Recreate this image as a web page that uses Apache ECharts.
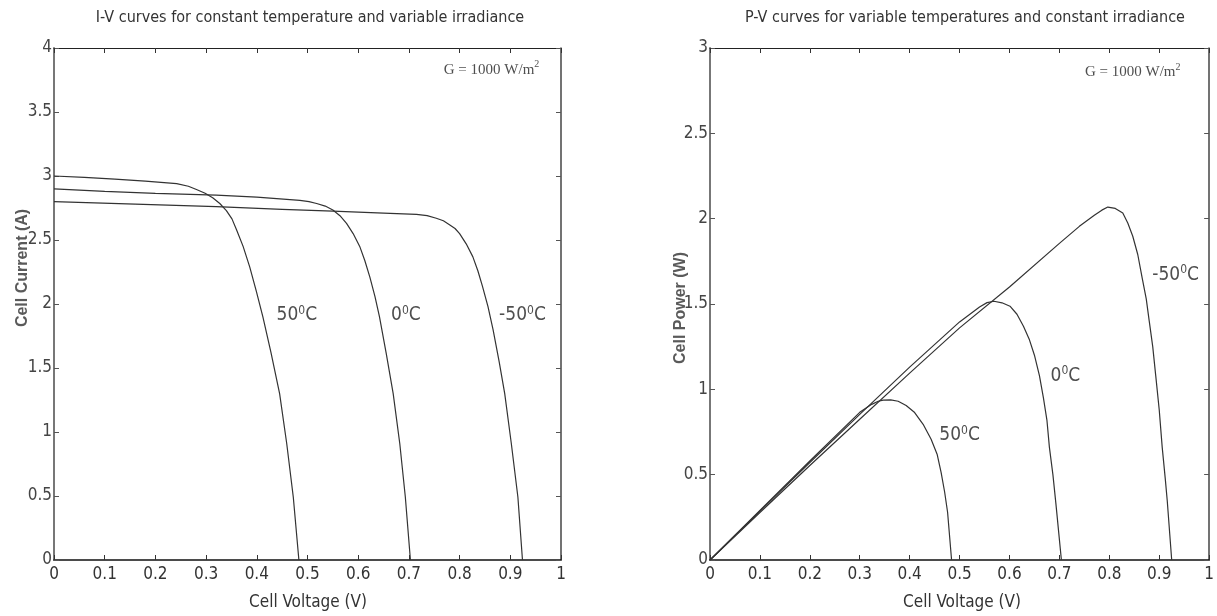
<!DOCTYPE html>
<html>
<head>
    <meta charset="utf-8">
    <title>I-V and P-V curves</title>
    <style>
        html, body { margin: 0; padding: 0; background: #fff; }
        #main { width: 1217px; height: 616px; }
    </style>
</head>
<body>
<div id="main"></div>
<script src="https://cdn.jsdelivr.net/npm/echarts@6/dist/echarts.min.js"></script>
<script>
    // I-V curves, [V, I]
    var iv50 = [[0, 3.0], [0.06, 2.99], [0.12, 2.975], [0.18, 2.96], [0.242, 2.94], [0.265, 2.92], [0.281, 2.895],
        [0.298, 2.865], [0.313, 2.83], [0.327, 2.785], [0.34, 2.73], [0.351, 2.665], [0.36, 2.58], [0.373, 2.45],
        [0.386, 2.29], [0.399, 2.10], [0.412, 1.90], [0.428, 1.62], [0.445, 1.30], [0.459, 0.91], [0.472, 0.49], [0.483, 0]];
    var iv0 = [[0, 2.90], [0.1, 2.88], [0.2, 2.865], [0.32, 2.85], [0.4, 2.835], [0.485, 2.81], [0.503, 2.80],
        [0.518, 2.785], [0.535, 2.765], [0.55, 2.735], [0.564, 2.69], [0.577, 2.63], [0.59, 2.55], [0.603, 2.45],
        [0.613, 2.34], [0.623, 2.21], [0.633, 2.06], [0.642, 1.90], [0.655, 1.62], [0.669, 1.30], [0.682, 0.91],
        [0.693, 0.49], [0.703, 0]];
    var ivm50 = [[0, 2.80], [0.16, 2.78], [0.32, 2.76], [0.45, 2.74], [0.55, 2.725], [0.65, 2.71], [0.715, 2.70],
        [0.736, 2.69], [0.754, 2.67], [0.768, 2.65], [0.78, 2.62], [0.791, 2.59], [0.80, 2.55], [0.813, 2.47],
        [0.826, 2.37], [0.836, 2.26], [0.845, 2.14], [0.856, 1.98], [0.866, 1.80], [0.878, 1.55], [0.889, 1.30],
        [0.902, 0.91], [0.915, 0.49], [0.924, 0]];

    // P-V curves, [V, P]
    var pv50 = [[0, 0], [0.1, 0.29], [0.2, 0.58], [0.3, 0.865], [0.324, 0.912], [0.337, 0.93], [0.347, 0.937],
        [0.362, 0.938], [0.377, 0.93], [0.393, 0.905], [0.41, 0.864], [0.427, 0.795], [0.443, 0.707], [0.455, 0.62],
        [0.463, 0.513], [0.47, 0.40], [0.476, 0.28], [0.484, 0]];
    var pv0 = [[0, 0], [0.1, 0.286], [0.2, 0.571], [0.3, 0.853], [0.4, 1.13], [0.5, 1.395], [0.54, 1.483],
        [0.555, 1.508], [0.569, 1.516], [0.585, 1.507], [0.601, 1.487], [0.615, 1.44], [0.628, 1.37], [0.64, 1.29],
        [0.65, 1.2], [0.66, 1.08], [0.668, 0.95], [0.675, 0.82], [0.68, 0.66], [0.687, 0.5], [0.693, 0.33], [0.704, 0]];
    var pvm50 = [[0, 0], [0.1, 0.278], [0.2, 0.554], [0.3, 0.825], [0.4, 1.095], [0.5, 1.36], [0.6, 1.60],
        [0.7, 1.855], [0.74, 1.955], [0.77, 2.02], [0.785, 2.05], [0.797, 2.068], [0.812, 2.06], [0.827, 2.033],
        [0.837, 1.975], [0.847, 1.897], [0.857, 1.79], [0.866, 1.65], [0.874, 1.53], [0.88, 1.40], [0.887, 1.25],
        [0.893, 1.08], [0.9, 0.88], [0.906, 0.66], [0.912, 0.48], [0.916, 0.35], [0.925, 0]];

    // curve labels [V, value, text]
    var ivNotes = [[0.479, 1.91, '{n|50}{s|0}{n|C}'], [0.694, 1.91, '{n|0}{s|0}{n|C}'],
        [0.924, 1.91, '{n|-50}{s|0}{n|C}'], [0.863, 3.83, '{g|G = 1000 W/m}{gs|2}']];
    var pvNotes = [[0.5, 0.73, '{n|50}{s|0}{n|C}'], [0.712, 1.08, '{n|0}{s|0}{n|C}'],
        [0.933, 1.67, '{n|-50}{s|0}{n|C}'], [0.847, 2.86, '{g|G = 1000 W/m}{gs|2}']];

    var narrow = "'Liberation Sans Narrow','DejaVu Sans Condensed','Roboto Condensed',sans-serif";
    var lineColor = '#333';

    var rich = {
        n: { fontFamily: narrow, fontSize: 19, color: '#222', lineHeight: 22 },
        s: { fontFamily: narrow, fontSize: 12, color: '#222', lineHeight: 12, verticalAlign: 'top' },
        g: { fontFamily: "'Liberation Serif', serif", fontSize: 15, color: '#222', lineHeight: 20 },
        gs: { fontFamily: "'Liberation Serif', serif", fontSize: 10, color: '#222', lineHeight: 10, verticalAlign: 'top' }
    };

    function xAxes(grid) {
        return [{
            type: 'value', gridIndex: grid, min: 0, max: 1, interval: 0.1,
            axisLine: { onZero: false, lineStyle: { color: '#111', width: 1.5 } },
            axisTick: { inside: true, length: 5, lineStyle: { color: '#333' } },
            axisLabel: { fontFamily: narrow, fontSize: 17, color: '#333', margin: 6 },
            splitLine: { show: false }
        }, {
            type: 'value', gridIndex: grid, position: 'top', min: 0, max: 1, interval: 0.1,
            axisLine: { onZero: false, lineStyle: { color: '#222', width: 1 } },
            axisTick: { inside: true, length: 5, lineStyle: { color: '#333' } },
            axisLabel: { show: false },
            splitLine: { show: false }
        }];
    }

    function yAxes(grid, max) {
        return [{
            type: 'value', gridIndex: grid, min: 0, max: max, interval: 0.5,
            axisLine: { onZero: false, lineStyle: { color: '#777', width: 2 } },
            axisTick: { inside: true, length: 5, lineStyle: { color: '#555' } },
            axisLabel: { fontFamily: narrow, fontSize: 17, color: '#444', margin: 2 },
            splitLine: { show: false }
        }, {
            type: 'value', gridIndex: grid, position: 'right', min: 0, max: max, interval: 0.5,
            axisLine: { onZero: false, lineStyle: { color: '#444', width: 1.5 } },
            axisTick: { inside: true, length: 5, lineStyle: { color: '#555' } },
            axisLabel: { show: false },
            splitLine: { show: false }
        }];
    }

    function curve(data, xi, yi) {
        return {
            type: 'line', data: data, xAxisIndex: xi, yAxisIndex: yi,
            showSymbol: false, silent: true,
            lineStyle: { color: lineColor, width: 1.2 }
        };
    }

    function notes(data, xi, yi) {
        return {
            type: 'scatter', data: data, xAxisIndex: xi, yAxisIndex: yi,
            symbolSize: 0, silent: true,
            label: {
                show: true, position: 'inside',
                formatter: function (p) { return p.data[2]; },
                rich: rich
            }
        };
    }

    function text(x, y, str, font, fill, rot) {
        return {
            type: 'text', x: x, y: y, rotation: rot || 0,
            style: { text: str, font: font, fill: fill, textAlign: 'center', textVerticalAlign: 'middle' }
        };
    }

    var chart = echarts.init(document.getElementById('main'));
    var option = {
        animation: false,
        grid: [
            { left: 54, top: 48, width: 507, height: 512 },
            { left: 710, top: 48, width: 504, height: 512 }
        ],
        xAxis: xAxes(0).concat(xAxes(1)),
        yAxis: yAxes(0, 4).concat(yAxes(1, 3)),
        series: [
            curve(iv50, 0, 0), curve(iv0, 0, 0), curve(ivm50, 0, 0), notes(ivNotes, 0, 0),
            curve(pv50, 2, 2), curve(pv0, 2, 2), curve(pvm50, 2, 2), notes(pvNotes, 2, 2)
        ],
        graphic: [
            text(310, 18, 'I-V curves for constant temperature and variable irradiance', '16px ' + narrow, '#333'),
            text(965, 18, 'P-V curves for variable temperatures and constant irradiance', '16px ' + narrow, '#333'),
            text(308, 603, 'Cell Voltage (V)', '17px ' + narrow, '#333'),
            text(962, 603, 'Cell Voltage (V)', '17px ' + narrow, '#333'),
            text(23, 268, 'Cell Current (A)', "bold 16px 'Liberation Sans', Arial, sans-serif", '#5a5a5a', Math.PI / 2),
            text(681, 308, 'Cell Power (W)', "bold 16px 'Liberation Sans', Arial, sans-serif", '#5a5a5a', Math.PI / 2)
        ]
    };
    chart.setOption(option);
</script>
</body>
</html>
